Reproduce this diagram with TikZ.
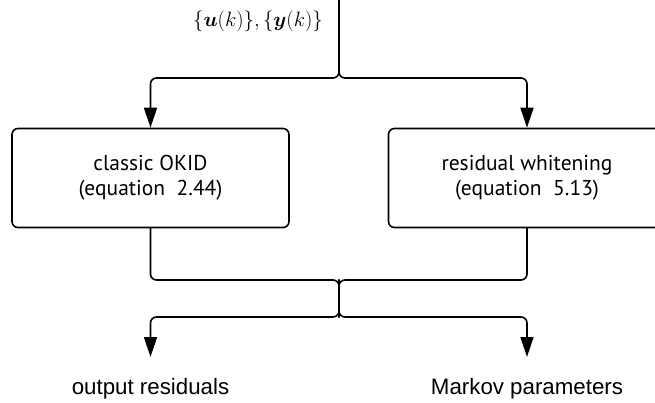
\documentclass[tikz,border=0pt]{standalone}
\usepackage{fontspec}
\usepackage{amssymb,amsmath}
\usetikzlibrary{arrows.meta}
\newfontfamily\boxfont{PT Sans}
\newfontfamily\outfont{Liberation Sans}

\begin{document}
\begin{tikzpicture}[x=1pt, y=-1pt, >={Triangle[width=13pt,length=20pt]},
	line cap=round, line join=round,
	flow/.style={draw=black, line width=1.6pt, rounded corners=6pt},
	stage/.style={draw=black, line width=1.6pt, rounded corners=6pt,
		minimum width=277pt, minimum height=99pt, align=center,
		font=\boxfont\fontsize{21.5}{25}\selectfont},
	outlabel/.style={font=\outfont\fontsize{22.3}{26}\selectfont}]
\clip (0,0) rectangle (655,403);
%========================
% input
%========================
\coordinate (in) at (339,0);
\node (data) at (258,21) {\fontsize{21.5}{25}\selectfont $\{\boldsymbol{u}(k)\},\{\boldsymbol{y}(k)\}$};
\coordinate (split) at (339,78);

%========================
% two identification stages
%========================
\node[stage] (okid) at (150.5,178) {classic OKID\\(equation~~2.44)};
\node[stage] (white) at (527,178) {residual whitening\\(equation~~5.13)};

\draw[flow,->] (in) -- (split) -| (okid.north);
\draw[flow,->] (in) -- (split) -| (white.north);

%========================
% merge and outputs
%========================
\coordinate (merge) at (339,280);
\coordinate (fork) at (339,317);
\coordinate (resend) at (150.5,357);
\coordinate (markend) at (527,357);
\node[outlabel] (res) at (150.5,389) {output residuals};
\node[outlabel] (markov) at (527,389) {Markov parameters};

\draw[flow] (okid.south) |- (merge) -- (fork);
\draw[flow] (white.south) |- (merge) -- (fork);
\draw[flow,->] (merge) -- (fork) -| (resend);
\draw[flow,->] (merge) -- (fork) -| (markend);
\end{tikzpicture}
\end{document}
